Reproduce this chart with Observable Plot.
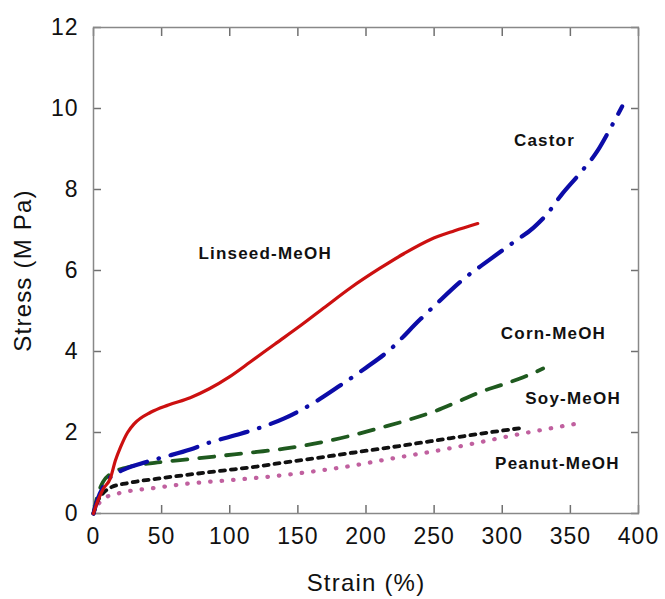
<!DOCTYPE html>
<html>
<head>
<meta charset="utf-8">
<script src="https://cdn.jsdelivr.net/npm/d3@7"></script>
<script src="https://cdn.jsdelivr.net/npm/@observablehq/plot@0.6"></script>
<style>
  html, body { margin: 0; padding: 0; background: #fff; }
</style>
</head>
<body>
<div id="chart"></div>
<script>
// Stress-strain curves: [strain %, stress MPa]
const linseed = [[0,0],[3,0.3],[7,0.6],[12.5,0.88],[16,1.3],[20,1.65],[25,2.0],[30,2.22],[42,2.5],[55,2.68],[71,2.86],[85,3.08],[100,3.38],[115,3.74],[133,4.18],[152,4.64],[170,5.1],[189,5.58],[210,6.05],[228,6.42],[247,6.76],[265,6.98],[282,7.16]];
const castor = [[0,0],[3,0.35],[7,0.65],[12.5,0.9],[20,1.05],[34.5,1.23],[50,1.38],[71,1.58],[85,1.75],[108,1.97],[125,2.15],[140,2.35],[160,2.7],[181,3.16],[200,3.6],[216,4.0],[240,4.8],[250,5.12],[272,5.8],[290,6.25],[308,6.69],[323,7.06],[333,7.4],[343,7.85],[357,8.4],[370,8.96],[380,9.55],[388,10.05]];
const corn = [[0,0],[3,0.45],[7,0.78],[12.5,0.98],[25,1.14],[47,1.26],[70,1.34],[95,1.43],[120,1.52],[140,1.6],[166,1.75],[190,1.93],[211,2.12],[230,2.3],[250,2.52],[268,2.77],[284,3.0],[300,3.18],[315,3.36],[330,3.58]];
const soy = [[0,0],[3,0.3],[7,0.5],[12.5,0.64],[25,0.75],[47,0.86],[70,0.96],[95,1.06],[120,1.16],[140,1.26],[166,1.38],[190,1.5],[211,1.6],[235,1.72],[260,1.85],[290,2.0],[316,2.12]];
const peanut = [[0,0],[3,0.2],[8,0.38],[17.6,0.49],[47,0.64],[70,0.74],[95,0.81],[120,0.88],[140,0.95],[166,1.06],[190,1.18],[211,1.31],[235,1.45],[260,1.6],[285,1.77],[308,1.93],[330,2.07],[355,2.22]];

const seriesLabels = ["Linseed-MeOH", "Castor", "Corn-MeOH", "Soy-MeOH", "Peanut-MeOH"];
const labelX = [126, 331, 337.6, 352, 340.5];
const labelY = [6.42, 9.2, 4.44, 2.84, 1.23];

const xTicks = [0, 50, 100, 150, 200, 250, 300, 350, 400];
const yTicks = [0, 2, 4, 6, 8, 10, 12];
const xTitle = "Strain (%)";
const yTitle = "Stress (M Pa)";

const labels = seriesLabels.map((t, i) => ({t, x: labelX[i], y: labelY[i]}));
const font = "'Liberation Sans', Arial, Helvetica, sans-serif";
const curve = "monotone-x";

const W = 665, H = 599, mL = 93, mR = 27, mT = 27, mB = 86;
const tk = 8;
const tickStyle = {tickFormat: () => "", label: null, tickSize: tk, stroke: "#707070", strokeWidth: 1.5};

const chart = Plot.plot({
  width: W,
  height: H,
  marginLeft: mL,
  marginRight: mR,
  marginTop: mT,
  marginBottom: mB,
  x: {domain: [0, 400]},
  y: {domain: [0, 12]},
  style: {fontFamily: font, background: "#fff"},
  marks: [
    // inward ticks on all four sides (axis ticks shifted inside the frame)
    Plot.axisX(xTicks, {anchor: "bottom", dy: -tk, ...tickStyle}),
    Plot.axisX(xTicks, {anchor: "top", dy: tk, ...tickStyle}),
    Plot.axisY(yTicks, {anchor: "left", dx: tk, ...tickStyle}),
    Plot.axisY(yTicks, {anchor: "right", dx: -tk, ...tickStyle}),
    // tick labels
    Plot.axisX(xTicks, {anchor: "bottom", tickSize: 0, tickPadding: 14, fontSize: 23, fill: "#111", label: null}),
    Plot.axisY(yTicks, {anchor: "left", tickSize: 0, tickPadding: 15, fontSize: 23, fill: "#111", label: null}),
    Plot.frame({stroke: "#888", strokeWidth: 1.5}),
    Plot.line(peanut, {x: d => d[0], y: d => d[1], stroke: "#c0609f", strokeWidth: 4.2, strokeDasharray: "0.5,11", strokeLinecap: "round", curve}),
    Plot.line(soy, {x: d => d[0], y: d => d[1], stroke: "#111", strokeWidth: 3.8, strokeDasharray: "5,6", strokeLinecap: "round", curve}),
    Plot.line(corn, {x: d => d[0], y: d => d[1], stroke: "#1f5a1f", strokeWidth: 3.8, strokeDasharray: "15,12", strokeLinecap: "round", curve}),
    Plot.line(castor, {x: d => d[0], y: d => d[1], stroke: "#0c0ca8", strokeWidth: 4.2, strokeDasharray: "28,12,0.5,12", strokeLinecap: "round", curve}),
    Plot.line(linseed, {x: d => d[0], y: d => d[1], stroke: "#cc1010", strokeWidth: 3.2, curve}),
    Plot.text(labels, {x: "x", y: "y", text: "t", fontSize: 17, fontWeight: "bold", fill: "#111", textAnchor: "middle", lineAnchor: "middle"}),
    Plot.text([xTitle], {frameAnchor: "bottom", dy: 77, lineAnchor: "bottom", fontSize: 24, fill: "#111"}),
    Plot.text([yTitle], {frameAnchor: "left", dx: -70, rotate: -90, textAnchor: "middle", lineAnchor: "middle", fontSize: 24, fill: "#111"})
  ]
});

// mimic the slightly stretched lettering of the original
chart.querySelectorAll('[aria-label="text"] text').forEach(t => t.style.letterSpacing = "1.2px");
chart.querySelectorAll('[aria-label="x-axis tick label"] text, [aria-label="y-axis tick label"] text').forEach(t => t.style.letterSpacing = "1px");

document.getElementById("chart").appendChild(chart);
</script>
</body>
</html>
